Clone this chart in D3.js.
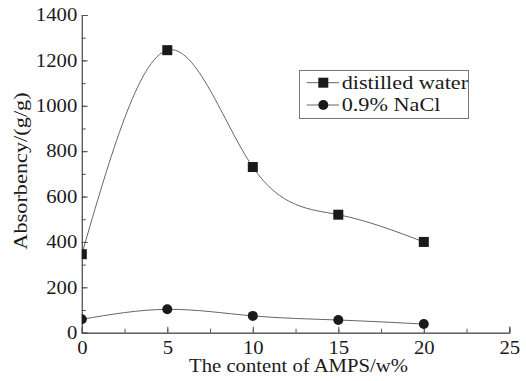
<!DOCTYPE html>
<html><head><meta charset="utf-8">
<script src="https://cdn.jsdelivr.net/npm/d3@7"></script>
<style>body{margin:0;background:#fff}svg{display:block}svg text{font-family:"Liberation Serif","Times New Roman",serif !important;fill:#1a1a1a}</style>
</head><body><svg id="c" width="526" height="381"></svg>
<script>
const xLabel = "The content of AMPS/w%";
const yLabel = "Absorbency/(g/g)";
const seriesNames = ["distilled water", "0.9% NaCl"];
const xValues = [0, 5, 10, 15, 20];
const waterValues = [346, 1245, 730, 520, 400];
const naclValues = [59, 103, 74, 56, 38];
const xTicks = [0, 5, 10, 15, 20, 25];
const yTicks = [0, 200, 400, 600, 800, 1000, 1200, 1400];

const FONT = "Liberation Serif";
const svg = d3.select("#c");
const L = 81.8, R = 509.3, T = 15, B = 332.7;
const x = d3.scaleLinear().domain([0, 25]).range([L, R]);
const y = d3.scaleLinear().domain([0, 1400]).range([B, T]);
const sx = 1.15;
const axisCol = "#555";

svg.append("clipPath").attr("id", "clip").append("rect")
  .attr("x", L).attr("y", 0).attr("width", 526 - L).attr("height", B);

// minor ticks
const gx = svg.append("g").attr("transform", `translate(0,${B})`);
gx.call(d3.axisBottom(x).tickValues(d3.range(0, 25.01, 2.5)).tickSize(-4).tickFormat(""));
const gx2 = svg.append("g").attr("transform", `translate(0,${B})`);
gx2.call(d3.axisBottom(x).tickValues(xTicks).tickSize(-6).tickPadding(14).tickFormat(d3.format("d")));
gx2.selectAll("text").attr("font-size", 18).attr("font-family", FONT).attr("dy", "0.4em").attr("transform", `scale(${sx},1)`);

const gy = svg.append("g").attr("transform", `translate(${L},0)`);
gy.call(d3.axisLeft(y).tickValues(d3.range(0, 1401, 100)).tickSize(-4).tickFormat(""));
const gy2 = svg.append("g").attr("transform", `translate(${L},0)`);
gy2.call(d3.axisLeft(y).tickValues(yTicks).tickSize(-6).tickPadding(4).tickFormat(d3.format("d")));
gy2.selectAll("text").attr("font-size", 18).attr("font-family", FONT).attr("transform", `scale(${sx},1)`);
[gx, gx2, gy, gy2].forEach(g => {
  g.attr("font-family", FONT);
  g.selectAll("path,line").attr("stroke", axisCol);
});

// curves
const data1 = xValues.map((d, i) => [d, waterValues[i]]);
const data2 = xValues.map((d, i) => [d, naclValues[i]]);
const line = d3.line().x(d => x(d[0])).y(d => y(d[1])).curve(d3.curveNatural);
const plot = svg.append("g").attr("clip-path", "url(#clip)");
plot.append("path").attr("d", line(data1)).attr("fill", "none").attr("stroke", "#666").attr("stroke-width", 1);
plot.append("path").attr("d", line(data2)).attr("fill", "none").attr("stroke", "#666").attr("stroke-width", 1);

const sq = 10;
plot.selectAll(".sq").data(data1).join("rect")
  .attr("x", d => x(d[0]) - sq / 2).attr("y", d => y(d[1]) - sq / 2)
  .attr("width", sq).attr("height", sq).attr("fill", "#1a1a1a");
plot.selectAll(".ci").data(data2).join("circle")
  .attr("cx", d => x(d[0])).attr("cy", d => y(d[1])).attr("r", 5).attr("fill", "#1a1a1a");

// axis titles
svg.append("text").attr("transform", `translate(298.5,372) scale(${sx},1)`)
  .attr("text-anchor", "middle").attr("font-size", 18).attr("font-family", FONT).text(xLabel);
svg.append("text").attr("transform", `translate(26.5,171) rotate(-90) scale(1.24,1.05)`)
  .attr("text-anchor", "middle").attr("font-size", 18).attr("font-family", FONT).text(yLabel);

// legend
const lg = svg.append("g");
lg.append("rect").attr("x", 299.5).attr("y", 70.5).attr("width", 169).attr("height", 48)
  .attr("fill", "#fff").attr("stroke", "#777").attr("stroke-width", 1);
[0, 1].forEach(i => {
  const cy = 82.7 + i * 22.3;
  lg.append("line").attr("x1", 306.7).attr("x2", 339).attr("y1", cy).attr("y2", cy).attr("stroke", "#666");
  if (i === 0) lg.append("rect").attr("x", 323.3 - 5).attr("y", cy - 5).attr("width", 10).attr("height", 10).attr("fill", "#1a1a1a");
  else lg.append("circle").attr("cx", 323.3).attr("cy", cy).attr("r", 5).attr("fill", "#1a1a1a");
  lg.append("text").attr("transform", `translate(341.7,${cy + 6}) scale(1.17,1)`).attr("font-size", 19).attr("font-family", FONT).text(seriesNames[i]);
});
</script></body></html>
